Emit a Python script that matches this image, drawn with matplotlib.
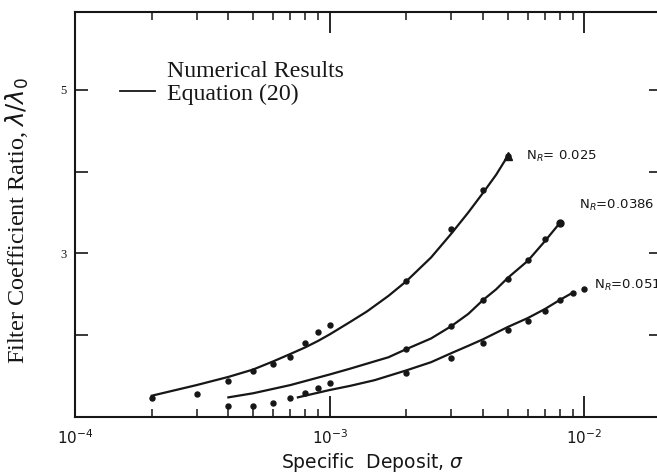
import matplotlib
matplotlib.use('Agg')
import matplotlib.pyplot as plt
from matplotlib.lines import Line2D
from matplotlib.ticker import LogLocator, FixedLocator, NullFormatter, FixedFormatter

# numerical results (points) for each N_R
sigma_a = [2e-4, 3e-4, 4e-4, 5e-4, 6e-4, 7e-4, 8e-4, 9e-4, 1e-3, 2e-3, 3e-3, 4e-3, 5e-3]
ratio_a = [1.23, 1.28, 1.44, 1.56, 1.65, 1.73, 1.90, 2.04, 2.12, 2.66, 3.30, 3.78, 4.19]

sigma_b = [1e-3, 2e-3, 3e-3, 4e-3, 5e-3, 6e-3, 7e-3, 8e-3]
ratio_b = [1.42, 1.83, 2.11, 2.43, 2.69, 2.92, 3.17, 3.37]

sigma_c = [4e-4, 5e-4, 6e-4, 7e-4, 8e-4, 9e-4, 2e-3, 3e-3, 4e-3, 5e-3, 6e-3, 7e-3, 8e-3, 9e-3, 1e-2]
ratio_c = [1.13, 1.13, 1.17, 1.23, 1.29, 1.35, 1.54, 1.72, 1.90, 2.06, 2.17, 2.29, 2.43, 2.52, 2.56]

# Equation (20) curves
eq_sigma_a = [2e-4, 3e-4, 4e-4, 5e-4, 6e-4, 7e-4, 8e-4, 9e-4, 1e-3, 1.2e-3, 1.4e-3, 1.7e-3,
              2e-3, 2.5e-3, 3e-3, 3.5e-3, 4e-3, 4.5e-3, 5e-3]
eq_ratio_a = [1.26, 1.39, 1.49, 1.58, 1.68, 1.77, 1.85, 1.93, 2.01, 2.16, 2.29, 2.48,
              2.66, 2.95, 3.24, 3.50, 3.74, 3.96, 4.19]

eq_sigma_b = [4e-4, 5e-4, 7e-4, 1e-3, 1.2e-3, 1.5e-3, 1.7e-3, 2e-3, 2.5e-3, 3e-3, 3.5e-3,
              4e-3, 4.5e-3, 5e-3, 6e-3, 7e-3, 8e-3]
eq_ratio_b = [1.24, 1.29, 1.39, 1.52, 1.59, 1.68, 1.73, 1.83, 1.96, 2.11, 2.26,
              2.43, 2.56, 2.70, 2.91, 3.15, 3.37]

eq_sigma_c = [7.5e-4, 1e-3, 1.2e-3, 1.5e-3, 2e-3, 2.5e-3, 3e-3, 3.5e-3, 4e-3, 5e-3, 6e-3,
              7e-3, 8e-3, 9e-3]
eq_ratio_c = [1.24, 1.33, 1.38, 1.45, 1.57, 1.67, 1.78, 1.87, 1.95, 2.10, 2.21,
              2.32, 2.43, 2.52]

labels = ['N$_R$= 0.025', 'N$_R$=0.0386', 'N$_R$=0.0513']

ink = '#161616'
fig = plt.figure(figsize=(6.57, 4.75), dpi=100)
ax = fig.add_axes([0.1142, 0.1221, 0.892, 0.8526])

for xs, ys in [(eq_sigma_a, eq_ratio_a), (eq_sigma_b, eq_ratio_b), (eq_sigma_c, eq_ratio_c)]:
    ax.plot(xs, ys, color=ink, lw=1.6)

for xs, ys in [(sigma_a, ratio_a), (sigma_b, ratio_b), (sigma_c, ratio_c)]:
    ax.plot(xs, ys, ls='none', marker='o', ms=3.6, color=ink)

# end markers
ax.plot(sigma_a[-1], ratio_a[-1], marker='^', ms=6, color=ink)
ax.plot(sigma_b[-1], ratio_b[-1], marker='o', ms=5, color=ink)

ax.annotate(labels[0], (sigma_a[-1], ratio_a[-1]), xytext=(13, 0), textcoords='offset points',
            fontsize=9.5, va='center', color=ink)
ax.annotate(labels[1], (sigma_b[-1], ratio_b[-1]), xytext=(14, 13), textcoords='offset points',
            fontsize=9.5, va='center', color=ink)
# this one runs off the right edge, as in the original
ax.annotate(labels[2], (sigma_c[-1], ratio_c[-1]), xytext=(7, 3), textcoords='offset points',
            fontsize=9.5, va='center', color=ink, annotation_clip=False)

ax.set_xscale('log')
ax.set_xlim(1e-4, 2e-2)
ax.set_ylim(1, 5.95)

ax.xaxis.set_major_locator(FixedLocator([1e-4, 1e-3, 1e-2]))
ax.xaxis.set_major_formatter(FixedFormatter(['10$^{-4}$', '10$^{-3}$', '10$^{-2}$']))
ax.xaxis.set_minor_locator(LogLocator(base=10, subs=range(2, 10)))
ax.xaxis.set_minor_formatter(NullFormatter())

ax.yaxis.set_major_locator(FixedLocator([1, 2, 3, 4, 5]))
ax.yaxis.set_major_formatter(FixedFormatter(['', '', '3', '', '5']))

ax.tick_params(axis='x', which='major', direction='in', length=15, width=1.3,
               top=True, labelsize=11, pad=8, colors=ink)
ax.tick_params(axis='x', which='minor', direction='in', length=6, width=1.1, top=True, colors=ink)
ax.tick_params(axis='y', which='major', direction='in', length=9, width=1.2,
               right=True, labelsize=9, pad=6, colors=ink)
for lab in ax.get_yticklabels():
    lab.set_family('Liberation Serif')

for s in ax.spines.values():
    s.set_linewidth(1.5)
    s.set_color(ink)

ax.set_ylabel('Filter Coefficient Ratio, $\\lambda/\\lambda_0$', fontsize=17.5,
              family='Liberation Serif', color=ink)
ax.yaxis.set_label_coords(-0.075, 0.484)
ax.set_xlabel('Specific  Deposit, $\\sigma$', fontsize=13.5, color=ink)
ax.xaxis.set_label_coords(0.507, -0.084)

handles = [Line2D([], [], ls='none'), Line2D([], [], color=ink, lw=1.3)]
ax.legend(handles, ['Numerical Results', 'Equation (20)'], loc='upper left',
          bbox_to_anchor=(0.077, 0.88), frameon=False, borderaxespad=0, borderpad=0,
          handlelength=1.45, handletextpad=0.5, labelspacing=0.02,
          prop={'family': 'Liberation Serif', 'size': 17.2}, labelcolor=ink)

fig.savefig('out.png', dpi=100)
